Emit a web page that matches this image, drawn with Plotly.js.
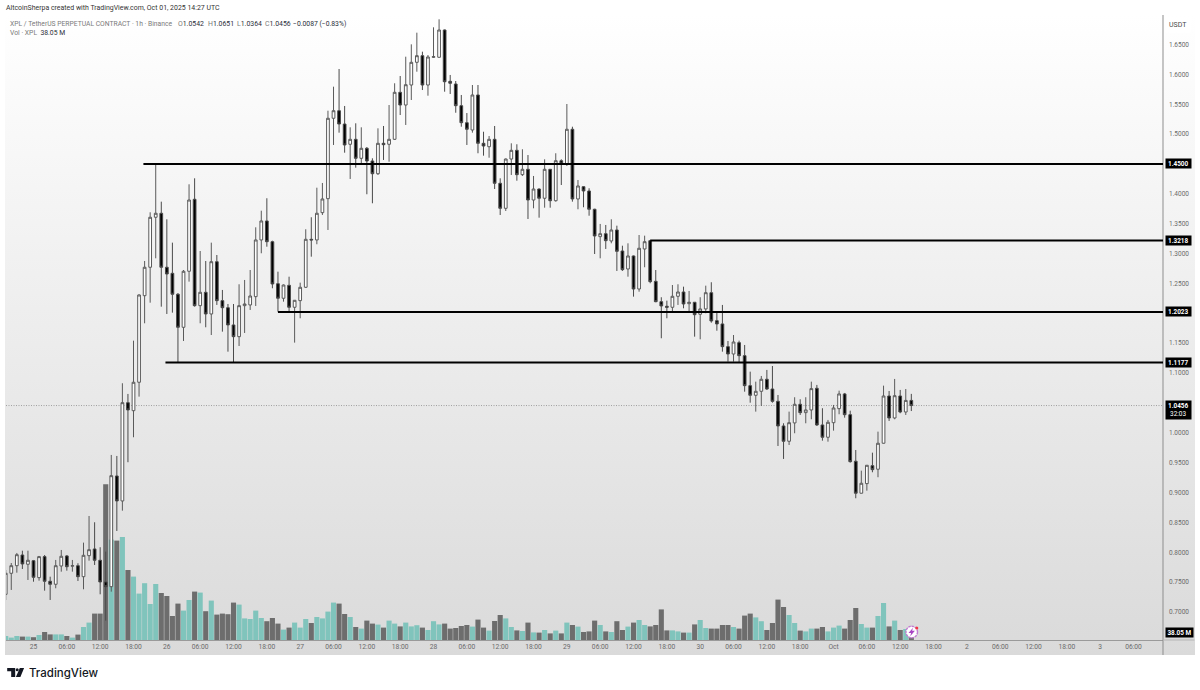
<!DOCTYPE html>
<html><head><meta charset="utf-8">
<script src="https://cdn.plot.ly/plotly-3.0.1.min.js"></script>
<style>
html,body{margin:0;padding:0;background:#fff;width:1200px;height:690px;overflow:hidden}
#bg{position:absolute;left:5px;top:15px;width:1190px;height:640px;background:linear-gradient(#ffffff,#dadada)}
#chart{position:absolute;left:0;top:0;width:1200px;height:690px}
</style></head><body>
<div id="bg"></div><div id="chart"></div>
<script>
// hourly candles, first one opens 2025-09-24 19:00 UTC
const firstCandleUTC = Date.UTC(2025, 8, 24, 19);
const open = [
.7296,.7648,.7775,.7954,.7799,.7859,.7575,.7927,.7514,.7464,.7770,.7938,.7767,.7775,.7591,.7943,.8055,.7866,.7503,.7424,
.9277,.8859,1.0504,1.0370,1.0846,1.2295,1.2771,1.3608,1.3675,1.2771,1.2670,1.2319,1.1766,1.2704,1.3909,1.2128,1.2352,1.1989,1.2864,1.2212,
1.2094,1.1805,1.1609,1.2128,1.2140,1.2279,1.3228,1.3546,1.3199,1.2496,1.2252,1.2469,1.2101,1.2212,1.2436,1.3239,1.3228,1.3685,1.3919,1.5265,
1.5392,1.5169,1.4830,1.4913,1.4595,1.4763,1.4550,1.4337,1.4846,1.4830,1.4913,1.5700,1.5487,1.5822,1.6202,1.6313,1.5822,1.6286,1.6286,1.6743,
1.5884,1.5839,1.5476,1.5191,1.5069,1.5655,1.4846,1.4789,1.4913,1.4177,1.3758,1.4583,1.4729,1.4321,1.4411,1.3897,1.4081,1.3926,1.4411,1.3885,
1.4555,1.4500,1.5081,1.3914,1.4120,1.4048,1.3742,1.3283,1.3333,1.3211,1.3395,1.3043,1.2742,1.2960,1.2407,1.3077,1.3216,1.2536,1.2195,1.2118,
1.2101,1.2285,1.2357,1.2161,1.2185,1.1984,1.2073,1.2345,1.1877,1.1822,1.1442,1.1319,1.1509,1.1291,1.0789,1.0628,1.0695,1.0896,1.0733,1.0527,
1.0114,.9858,1.0165,1.0477,1.0337,1.0382,1.0745,1.0131,.9925,1.0169,1.0404,1.0650,1.0303,.9524,.8988,.9149,.9450,.9390,.9825,1.0616,
1.0248,1.0616,1.0348,1.0542];
const high = [
.7703,.7820,.7988,.8026,.8026,.7871,.7938,.7954,.7591,.7871,.8038,.7954,.7871,.7816,.8161,.8607,.8502,.8084,.8010,.9629,
.9612,1.0829,1.0650,1.1542,1.2319,1.2876,1.3691,1.4500,1.3869,1.3574,1.3183,1.2340,1.2725,1.4160,1.4260,1.3043,1.2876,1.3183,1.2976,1.2391,
1.2156,1.2156,1.2486,1.2558,1.2725,1.3440,1.3718,1.3926,1.3216,1.2697,1.2483,1.2613,1.2223,1.2513,1.3407,1.3608,1.4103,1.4182,1.5392,1.5794,
1.6090,1.5471,1.5114,1.5181,1.5114,1.4784,1.4595,1.5097,1.5136,1.5487,1.5851,1.5973,1.6296,1.6503,1.6698,1.6380,1.6324,1.6788,1.6922,1.6751,
1.5990,1.5889,1.5655,1.5353,1.5822,1.5822,1.5040,1.4968,1.5136,1.4260,1.4592,1.4846,1.4830,1.4746,1.4650,1.4299,1.4090,1.4578,1.4416,1.4679,
1.4578,1.5504,1.5124,1.4232,1.4123,1.4093,1.3750,1.3496,1.3479,1.3574,1.3467,1.3132,1.3172,1.2968,1.3311,1.3300,1.3228,1.2725,1.2269,1.2212,
1.2474,1.2486,1.2446,1.2374,1.2190,1.2269,1.2463,1.2520,1.2023,1.2140,1.1537,1.1637,1.1542,1.1470,1.1023,1.0856,1.0951,1.1052,1.1118,1.0633,
1.0159,1.0354,1.0595,1.0561,1.0595,1.0856,1.0801,1.0411,1.0215,1.0466,1.0705,1.0667,1.0370,.9712,.9366,.9461,.9667,1.0019,1.0789,1.0700,
1.0901,1.0717,1.0733,1.0651];
const low = [
.7201,.7369,.7658,.7720,.7536,.7507,.7524,.7357,.7201,.7397,.7675,.7692,.7675,.7519,.7380,.7859,.7787,.7296,.6855,.7340,
.8356,.8696,.9507,.9925,1.0605,1.1833,1.2178,1.2921,1.2111,1.1989,1.2011,1.1180,1.1537,1.2530,1.2111,1.1833,1.1766,1.1637,1.2140,1.1693,
1.1358,1.1180,1.1453,1.1671,1.2056,1.2123,1.3005,1.3115,1.2419,1.2027,1.2195,1.2027,1.1509,1.1917,1.2424,1.2948,1.3156,1.3646,1.3395,1.4818,
1.5024,1.4689,1.4249,1.4438,1.4483,1.3993,1.3842,1.4316,1.4567,1.4538,1.4902,1.5320,1.5153,1.5571,1.6045,1.5738,1.5643,1.6274,1.6283,1.5710,
1.5672,1.5358,1.5124,1.4818,1.5024,1.4679,1.4639,1.4605,1.4081,1.3646,1.3713,1.4316,1.4220,1.4299,1.3579,1.3758,1.3601,1.3768,1.3768,1.3869,
1.4148,1.4466,1.3869,1.3742,1.3775,1.3634,1.2993,1.2921,1.3077,1.3172,1.2709,1.2709,1.2613,1.2279,1.2362,1.2771,1.2503,1.2185,1.1582,1.1917,
1.2027,1.2140,1.2084,1.2027,1.1609,1.1565,1.2001,1.1843,1.1709,1.1358,1.1191,1.1191,1.1174,1.0688,1.0504,1.0354,1.0449,1.0717,1.0504,.9779,
.9562,.9796,.9992,1.0298,1.0159,1.0226,1.0114,.9868,.9851,1.0036,1.0310,1.0253,.9500,.8904,.8985,.9031,.9339,.9256,.9821,1.0198,
1.0226,1.0327,1.0298,1.0364];
const close = [
.7648,.7775,.7959,.7804,.7866,.7581,.7927,.7514,.7464,.7775,.7933,.7758,.7775,.7591,.7949,.8043,.7866,.7503,.7424,.9282,
.8859,1.0504,1.0382,1.0846,1.2307,1.2771,1.3608,1.3675,1.2771,1.2658,1.2319,1.1766,1.2704,1.3897,1.2128,1.2352,1.1989,1.2864,1.2212,1.2094,
1.1805,1.1609,1.2128,1.2156,1.2290,1.3228,1.3546,1.3199,1.2491,1.2252,1.2474,1.2101,1.2218,1.2436,1.3239,1.3228,1.3675,1.3914,1.5265,1.5392,
1.5169,1.4818,1.4913,1.4595,1.4763,1.4550,1.4337,1.4846,1.4823,1.4913,1.5700,1.5487,1.5827,1.6202,1.6313,1.5822,1.6291,1.6296,1.6743,1.5877,
1.5851,1.5476,1.5191,1.5081,1.5655,1.4846,1.4801,1.4913,1.4177,1.3758,1.4583,1.4729,1.4321,1.4411,1.3897,1.4081,1.3926,1.4411,1.3885,1.4555,
1.4500,1.5081,1.3914,1.4132,1.4048,1.3742,1.3295,1.3333,1.3216,1.3395,1.3038,1.2731,1.2960,1.2407,1.3089,1.3199,1.2530,1.2195,1.2123,1.2101,
1.2285,1.2357,1.2156,1.2185,1.1977,1.2073,1.2345,1.1872,1.1822,1.1442,1.1319,1.1520,1.1291,1.0789,1.0628,1.0695,1.0896,1.0733,1.0527,1.0114,
.9858,1.0169,1.0477,1.0337,1.0382,1.0739,1.0131,.9925,1.0176,1.0415,1.0650,1.0303,.9517,.8988,.9155,.9456,.9383,.9825,1.0616,1.0248,
1.0621,1.0348,1.0542,1.0456];
const volumeM = [
20,12,20,17,17,14,25,40,28,28,28,20,12,27,65,87,132,132,779,502,
497,515,350,317,232,284,180,280,235,220,120,182,147,200,242,237,144,197,127,132,
129,187,177,108,105,147,110,94,110,82,52,62,87,62,105,85,115,108,142,187,
182,130,115,65,57,97,82,77,62,97,82,68,87,68,74,62,50,94,78,82,
57,60,70,75,67,102,62,47,95,125,108,65,48,45,87,38,37,50,33,47,
33,87,75,67,40,43,97,75,43,40,94,50,67,87,100,75,68,75,153,48,
48,43,37,37,78,100,60,57,57,75,75,65,57,122,132,113,94,50,85,202,
165,125,85,47,43,57,57,65,43,62,72,57,100,160,80,62,62,120,185,68,
97,50,55,38.05];

const priceTicks = [0.70,0.75,0.80,0.85,0.90,0.95,1.00,1.05,1.10,1.15,1.20,1.25,1.30,1.35,1.40,1.45,1.50,1.55,1.60,1.65];
const priceTickLabels = ["0.7000","0.7500","0.8000","0.8500","0.9000","0.9500","1.0000","","1.1000","1.1500","","1.2500","1.3000","1.3500","1.4000","","1.5000","1.5500","1.6000","1.6500"];
const timeTickLabels = ["25","06:00","12:00","18:00","26","06:00","12:00","18:00","27","06:00","12:00","18:00","28","06:00","12:00","18:00","29","06:00","12:00","18:00","30","06:00","12:00","18:00","Oct","06:00","12:00","18:00","2","06:00","12:00","18:00","3","06:00"];

// drawn horizontal levels
const levelPrices = [1.45, 1.3218, 1.2023, 1.1177];
const levelLabels = ["1.4500","1.3218","1.2023","1.1177"];
const levelStarts = ["2025-09-25 19:47","2025-09-29 15:00","2025-09-26 20:00","2025-09-25 23:45"];
const lastPrice = 1.0456;

const times = open.map((_, i) => new Date(firstCandleUTC + i * 3600000).toISOString().slice(0, 16).replace("T", " "));
const timeTicks = timeTickLabels.map((_, i) => new Date(Date.UTC(2025, 8, 25) + i * 6 * 3600000).toISOString().slice(0, 16).replace("T", " "));
const xRange = ["2025-09-24 19:03", "2025-10-03 11:18"];

const L = 5.5, T = 15, W = 1158, H = 625;
const px = v => (v - L) / W;
const py = v => (T + H - v) / H;
const FONT = "Roboto, 'Liberation Sans', sans-serif";
const path = pts => pts.map((p, i) => (i ? "L" : "M") + px(p[0]) + "," + py(p[1])).join(" ") + " Z";
const paperShape = o => Object.assign({xref: "paper", yref: "paper", layer: "above"}, o);

const shapes = [
  {type:"line", xref:"x", yref:"y2", x0:xRange[0], x1:xRange[1], y0:lastPrice, y1:lastPrice, layer:"below",
   line:{color:"#808080", width:0.7, dash:"1px,1.5px"}},
  paperShape({type:"line", x0:1, x1:1, y0:py(655), y1:1, line:{color:"#8d8d8d", width:1}}),
  paperShape({type:"line", x0:1, x1:px(1195), y0:0, y1:0, line:{color:"#b5b5b5", width:1}}),
  // TradingView mark
  paperShape({type:"path", path:path([[6.7,668],[14.7,668],[14.7,677],[10.7,677],[10.7,671.3],[6.7,671.3]]), fillcolor:"#131722", line:{width:0}}),
  paperShape({type:"circle", x0:px(15.2), x1:px(18.2), y0:py(671.2), y1:py(668.2), fillcolor:"#131722", line:{width:0}}),
  paperShape({type:"path", path:path([[19.3,668],[23.6,668],[19.9,677],[15.4,677]]), fillcolor:"#131722", line:{width:0}}),
  // live-feed badge
  paperShape({type:"circle", x0:px(906.2), x1:px(917.8), y0:py(637.8), y1:py(626.2), fillcolor:"#ffffff", line:{color:"#c27bd2", width:1.4, dash:"2.5px,0.8px"}}),
  paperShape({type:"path", path:path([[913.3,627.8],[908.8,633],[911.4,633],[910.5,636.3],[915.2,630.8],[912.4,630.8]]), fillcolor:"#a845c4", line:{width:0}}),
  paperShape({type:"circle", x0:px(915.6), x1:px(918.6), y0:py(629.4), y1:py(626.4), fillcolor:"#f23645", line:{width:0}})
];
levelPrices.forEach((p, i) => shapes.push({type:"line", xref:"x", yref:"y2", x0:levelStarts[i], x1:xRange[1], y0:p, y1:p, layer:"above", line:{color:"#000", width:2}}));

const annotations = [];
const textAt = (x, y, text, size, color, extra) => annotations.push(Object.assign({
  xref:"paper", yref:"paper", x:px(x), y:py(y), text, showarrow:false, xanchor:"left", yanchor:"middle",
  font:{family:FONT, size, color}, borderpad:0, borderwidth:0}, extra || {}));

const grey = "#7a7a7a", dark = "#2a2e39";
const val = s => `<span style="color:${dark}">${s}</span>`;
textAt(6, 8, "AltcoinSherpa created with TradingView.com, Oct 01, 2025 14:27 UTC", 6.95, "#333333");
textAt(10, 24, `XPL / TetherUS PERPETUAL CONTRACT · 1h · Binance`, 6.75, grey);
textAt(178, 24, `O${val("1.0542")}`, 6.9, grey);
textAt(207.5, 24, `H${val("1.0651")}`, 6.9, grey);
textAt(236.5, 24, `L${val("1.0364")}`, 6.9, grey);
textAt(265, 24, `C${val("1.0456")}`, 6.9, grey);
textAt(293, 24, val("−0.0087 (−0.83%)"), 6.8, grey);
textAt(10, 33.5, `Vol · XPL  ${val("38.05 M")}`, 6.8, grey);
textAt(28.3, 672.5, "TradingView", 11.5, "#131722", {font:{family:"Inter, Roboto, sans-serif", size:11.5, color:"#131722", weight:500}});

annotations.push({xref:"paper", yref:"paper", x:px(1179), y:py(25), text:"USDT", showarrow:false, xanchor:"center", yanchor:"middle",
  font:{family:FONT, size:7, color:"#4a4a4a"}, bgcolor:"#ffffff", borderpad:3});
levelPrices.forEach((p, i) => annotations.push({xref:"paper", yref:"y2", x:px(1165.5), y:p, text:`<b>${levelLabels[i]}</b>`,
  showarrow:false, xanchor:"left", yanchor:"middle", width:24.5, height:9, align:"center", bgcolor:"#000", borderpad:0,
  font:{family:FONT, size:6.4, color:"#fff"}}));
annotations.push({xref:"paper", yref:"paper", x:px(1165.5), y:py(409.5), text:"<b>1.0456</b><br>32:03",
  showarrow:false, xanchor:"left", yanchor:"middle", width:24.5, height:18, align:"center", bgcolor:"#000", borderpad:0,
  font:{family:FONT, size:6.4, color:"#fff"}});
annotations.push({xref:"paper", yref:"paper", x:px(1165.5), y:py(632.5), text:"<b>38.05 M</b>",
  showarrow:false, xanchor:"left", yanchor:"middle", width:27, height:9, align:"center", bgcolor:"#000", borderpad:0,
  font:{family:FONT, size:6.4, color:"#fff"}});

const traces = [
  {type:"bar", x:times, y:volumeM, xaxis:"x", yaxis:"y", hoverinfo:"skip",
   marker:{color:close.map((c, i) => c >= open[i] ? "#80c4bc" : "#6d6d6d"), line:{width:0}}},
  {type:"candlestick", x:times, open, high, low, close, xaxis:"x", yaxis:"y2", hoverinfo:"skip", whiskerwidth:0,
   increasing:{fillcolor:"#ffffff", line:{color:"#5a5a5a", width:1}},
   decreasing:{fillcolor:"#000000", line:{color:"#4a4a4a", width:1}}}
];

const layout = {
  width:1200, height:690, showlegend:false, dragmode:false, hovermode:false,
  margin:{l:L, r:1200 - L - W, t:T, b:690 - T - H, pad:0},
  paper_bgcolor:"rgba(0,0,0,0)", plot_bgcolor:"rgba(0,0,0,0)",
  bargap:0.08, boxgap:0.3,
  font:{family:FONT, size:7, color:"#666"},
  xaxis:{type:"date", range:xRange, tickmode:"array", tickvals:timeTicks, ticktext:timeTickLabels, ticks:"", showgrid:false, zeroline:false,
         rangeslider:{visible:false}, showline:true, linecolor:"#9a9a9a", linewidth:1, tickfont:{family:FONT, size:6.7, color:"#6a6a6a"}, tickangle:0},
  yaxis:{range:[0, 3125], visible:false, fixedrange:true},
  yaxis2:{overlaying:"y", side:"right", anchor:"x", range:[0.6531, 1.6994], tickmode:"array", tickvals:priceTicks, ticktext:priceTickLabels,
          ticks:"", showgrid:false, zeroline:false, showline:false, ticklabelstandoff:5,
          tickfont:{family:FONT, size:6.5, color:"#6a6a6a"}},
  shapes, annotations
};
Plotly.newPlot("chart", traces, layout, {staticPlot:true, displayModeBar:false});
</script>
</body></html>
